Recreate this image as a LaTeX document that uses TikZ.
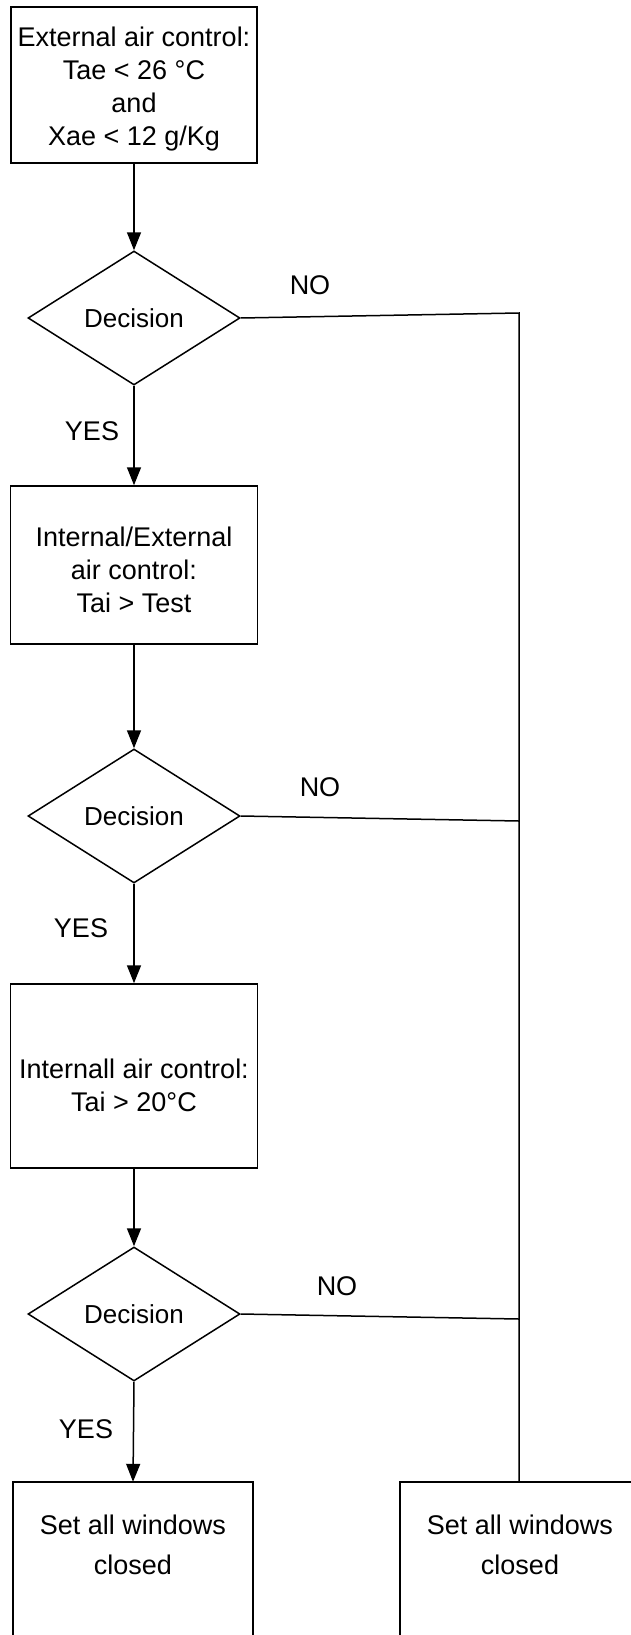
\documentclass[tikz,border=0pt]{standalone}
\usepackage{fontspec}
\setmainfont{Liberation Sans}
\usetikzlibrary{arrows.meta,shapes.geometric}
\begin{document}
\begin{tikzpicture}[x=1pt,y=-1pt,
  every node/.style={font=\fontsize{27}{33}\selectfont},
  stepbox/.style={draw,line width=1.5pt,rectangle,align=center,inner sep=0pt},
  openbox/.style={rectangle,align=center,inner sep=0pt,minimum width=240pt,minimum height=126pt},
  decision/.style={draw,line width=1.5pt,diamond,inner sep=0pt,minimum width=212pt,minimum height=134pt,
    font=\fontsize{26}{31}\selectfont},
  flow/.style={line width=1.5pt,-{Triangle[length=18pt,width=14pt]}},
  link/.style={line width=1.5pt},
  lbl/.style={inner sep=0pt}]
\useasboundingbox (0,0) rectangle (631,1635);
\clip (0,0) rectangle (631,1635);

% main column of checks (text height pads the text block a little lower)
\node[stepbox,minimum width=246pt,minimum height=156pt,text height=126pt] (ext) at (134,85)
  {External air control:\\Tae < 26 °C\\and\\Xae < 12 g/Kg};
\node[decision] (d1) at (134,318) {Decision};
\node[stepbox,minimum width=247pt,minimum height=158pt,text height=96pt] (ie) at (134,565)
  {Internal/External\\air control:\\Tai > Test};
\node[decision] (d2) at (134,816) {Decision};
\node[stepbox,minimum width=247pt,minimum height=184pt,text height=72pt] (int) at (134,1076)
  {Internall air control:\\Tai > 20°C};
\node[decision] (d3) at (134,1314) {Decision};

% final actions (boxes run past the lower edge)
\node[openbox] (resL) at (133,1545) {Set all windows\\[7pt]closed};
\node[openbox] (resR) at (520,1545) {Set all windows\\[7pt]closed};
\draw[link] ([yshift=-80pt]resL.south west) |- (resL.north east) -- ([yshift=-80pt]resL.south east);
\draw[link] ([yshift=-80pt]resR.south west) |- (resR.north east) -- ([yshift=-80pt]resR.south east);

% junctions on the NO collector line
\coordinate (j1) at (519,313);
\coordinate (j2) at (519,821);
\coordinate (j3) at (519,1319);

% YES path
\draw[flow] (ext.south) -- (d1.north);
\draw[flow] (d1.south) -- (ie.north);
\draw[flow] (ie.south) -- (d2.north);
\draw[flow] (d2.south) -- (int.north);
\draw[flow] (int.south) -- (d3.north);
\draw[flow] (d3.south) -- (resL.north);

% NO path
\draw[link] (d1.east) -- (j1) -- (j1 |- resR.north);
\draw[link] (d2.east) -- (j2);
\draw[link] (d3.east) -- (j3);

% branch labels
\node[lbl] (yes1) at (92,431) {YES};
\node[lbl] (yes2) at (81,928) {YES};
\node[lbl] (yes3) at (86,1429) {YES};
\node[lbl] (no1) at (310,285) {NO};
\node[lbl] (no2) at (320,787) {NO};
\node[lbl] (no3) at (337,1286) {NO};
\end{tikzpicture}
\end{document}
